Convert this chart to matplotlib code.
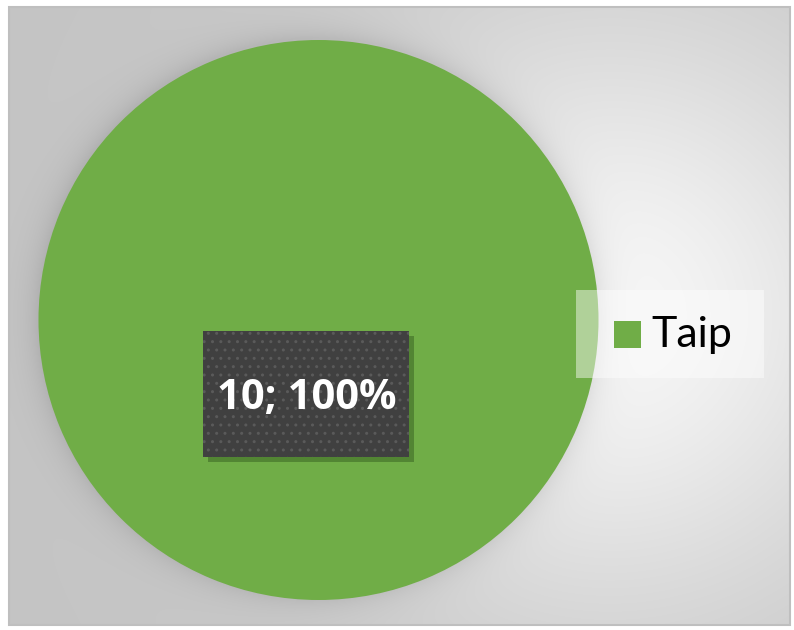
import numpy as np
import matplotlib
matplotlib.use("Agg")
import matplotlib.pyplot as plt
from matplotlib.patches import Rectangle

categories = ["Taip"]
values = [10]
colors = ["#70ad47"]

W, H = 794, 630
fig = plt.figure(figsize=(W / 100, H / 100), dpi=100)
fig.patch.set_facecolor("white")
ax = fig.add_axes([0, 0, 1, 1])

# chart-area background: radial grey gradient + pie shadow
x0, x1, y0, y1 = 9, 790, 7, 625
cx, cy, R = 318.5, 320, 280
xs = np.arange(x0, x1) + 0.5
ys = np.arange(y0, y1) + 0.5
X, Y = np.meshgrid(xs, ys)
d = np.hypot(X - 610, Y - 315)
g = 196 + 50 * np.exp(-(d / 310.0) ** 2)
dp = np.hypot(X - cx, Y - cy + 2)
shadow = np.where(dp > R, np.exp(-(dp - R) / 14.0), 1.0)
g = g - 20 * shadow
img = np.clip(g, 0, 255) / 255.0
ax.imshow(np.dstack([img, img, img]), extent=(x0, x1, y1, y0), zorder=0,
          interpolation="bilinear")
ax.add_patch(Rectangle((x0, y0), x1 - x0, y1 - y0, fill=False,
                       edgecolor="#bfbfbf", linewidth=1.5, zorder=1))

wedges, _ = ax.pie(values, colors=colors, startangle=90, counterclock=False,
                   center=(cx, cy), radius=R, wedgeprops=dict(linewidth=0),
                   frame=True)
for w in wedges:
    w.set_zorder(2)

ax.set_xlim(0, W)
ax.set_ylim(H, 0)
ax.set_aspect("auto")
ax.axis("off")

# data label
total = sum(values)
label = f"{values[0]}; {round(100 * values[0] / total)}%"
bx, by, bw, bh = 203, 331, 206, 126
ax.add_patch(Rectangle((bx + 5, by + 5), bw, bh, facecolor="#3f6b26",
                       edgecolor="none", alpha=0.6, zorder=3))
ax.add_patch(Rectangle((bx, by), bw, bh, facecolor="#404040",
                       edgecolor="none", zorder=4))
matplotlib.rcParams["hatch.color"] = "#595959"
matplotlib.rcParams["hatch.linewidth"] = 1.0
ax.add_patch(Rectangle((bx, by), bw, bh, facecolor="none", hatch="..",
                       edgecolor="#5a5a5a", linewidth=0, zorder=5))
ax.text(bx + bw / 2 + 1, by + bh / 2 + 5, label, color="white", fontsize=30,
        fontweight="bold", family=["Open Sans", "DejaVu Sans"],
        ha="center", va="center", zorder=6)

# legend
ax.add_patch(Rectangle((576, 290), 188, 88, facecolor="white", alpha=0.45,
                       edgecolor="none", zorder=7))
ax.add_patch(Rectangle((614, 321), 27, 27, facecolor=colors[0],
                       edgecolor="none", zorder=8))
ax.text(651, 335, categories[0], fontsize=31, family=["Lato", "DejaVu Sans"],
        color="black", ha="left", va="center", zorder=8)

fig.savefig("out.png", dpi=100, facecolor="white")
